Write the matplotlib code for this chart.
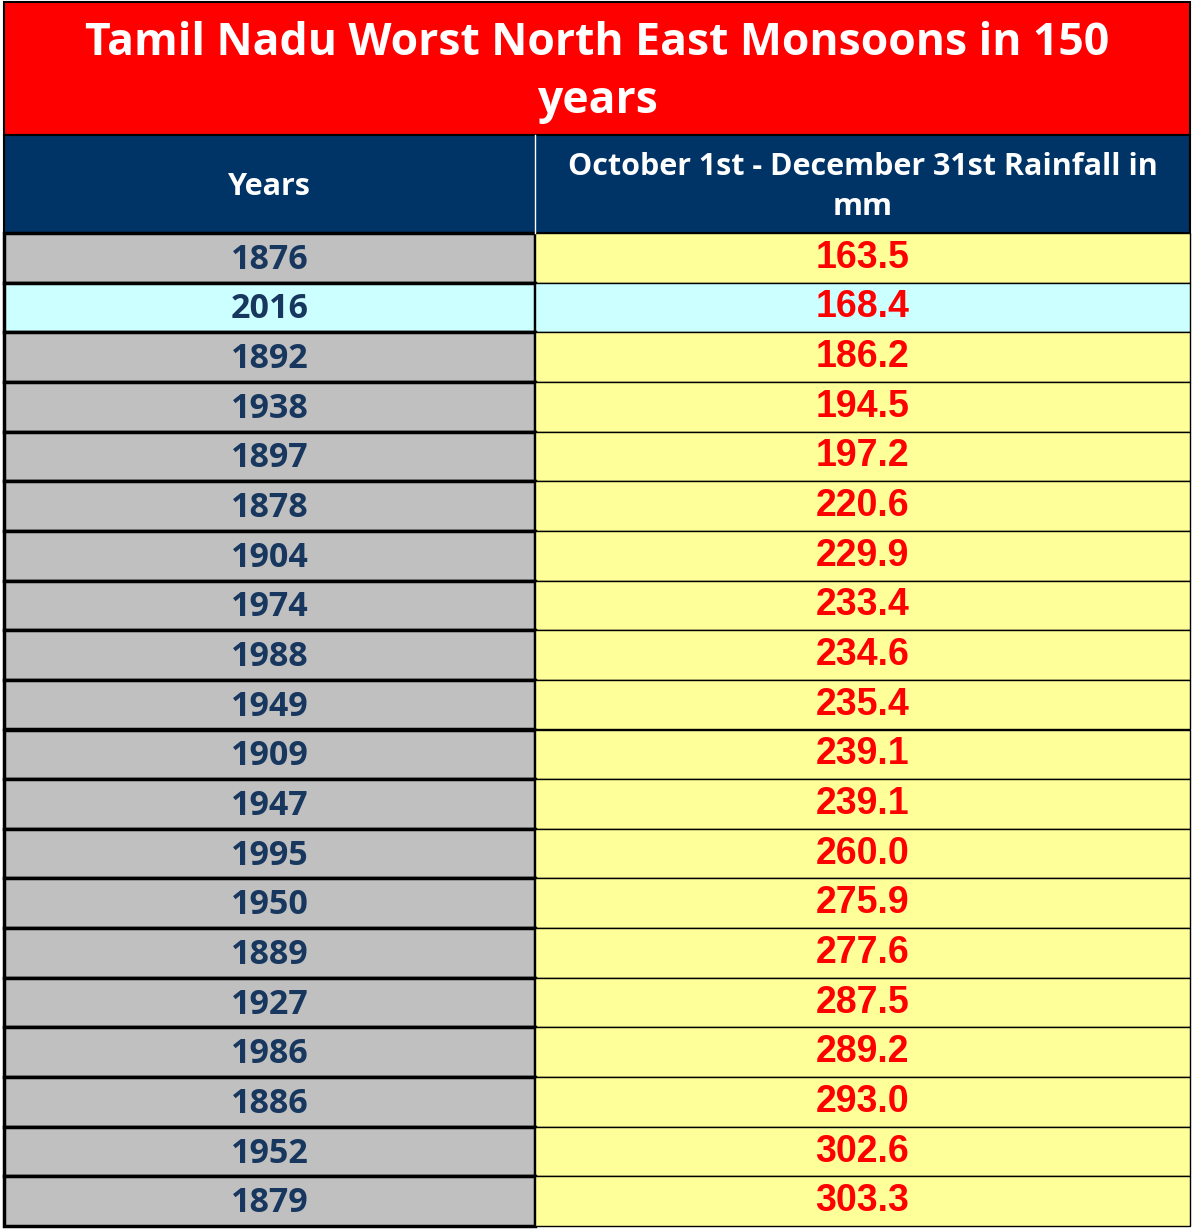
import matplotlib
matplotlib.use("Agg")
import matplotlib.pyplot as plt
from matplotlib.patches import Rectangle

title = "Tamil Nadu Worst North East Monsoons in 150\nyears"
headers = ["Years", "October 1st - December 31st Rainfall in\nmm"]
years = ["1876", "2016", "1892", "1938", "1897", "1878", "1904", "1974", "1988", "1949",
         "1909", "1947", "1995", "1950", "1889", "1927", "1986", "1886", "1952", "1879"]
rainfall = ["163.5", "168.4", "186.2", "194.5", "197.2", "220.6", "229.9", "233.4", "234.6", "235.4",
            "239.1", "239.1", "260.0", "275.9", "277.6", "287.5", "289.2", "293.0", "302.6", "303.3"]
highlight = "2016"

W, H = 1195, 1229
fig = plt.figure(figsize=(W/100, H/100), dpi=100)
ax = fig.add_axes([0, 0, 1, 1])
ax.set_xlim(0, W); ax.set_ylim(H, 0); ax.axis("off")

L, M, R = 4, 535, 1190
title_top, title_bot, head_bot, bottom = 2, 135, 233, 1226
rh = (bottom - head_bot) / len(years)

ax.add_patch(Rectangle((L, title_top), R-L, title_bot-title_top, fc="#FF0000", ec="black", lw=1.5))
ax.text((L+R)/2, (title_top+title_bot)/2+4, title, ha="center", va="center", color="white",
        fontsize=32, fontweight="bold", family="Open Sans", linespacing=1.4)
ax.add_patch(Rectangle((L, title_bot), R-L, head_bot-title_bot, fc="#003366", ec="black", lw=1.5))
ax.plot([M, M], [title_bot, head_bot], color="white", lw=1)
ax.text((L+M)/2, (title_bot+head_bot)/2+3, headers[0], ha="center", va="center", color="white",
        fontsize=22, fontweight="bold", family="Open Sans")
ax.text((M+R)/2, (title_bot+head_bot)/2+3, headers[1], ha="center", va="center", color="white",
        fontsize=22, fontweight="bold", family="Open Sans", linespacing=1.45)

for i, (y, v) in enumerate(zip(years, rainfall)):
    top = head_bot + i*rh
    hl = (y == highlight)
    ax.add_patch(Rectangle((L, top), M-L, rh, fc="#CCFFFF" if hl else "#C0C0C0", ec="black", lw=2.5))
    ax.add_patch(Rectangle((M, top), R-M, rh, fc="#CCFFFF" if hl else "#FFFF99", ec="black", lw=1))
    ax.text((L+M)/2, top+rh/2+2, y, ha="center", va="center", color="#17375E",
            fontsize=24.5, fontweight="bold", family="Open Sans")
    ax.text((M+R)/2, top+rh/2, v, ha="center", va="center", color="#FF0000",
            fontsize=27, fontweight="bold", family="Liberation Sans")

fig.savefig("out.png", dpi=100)
